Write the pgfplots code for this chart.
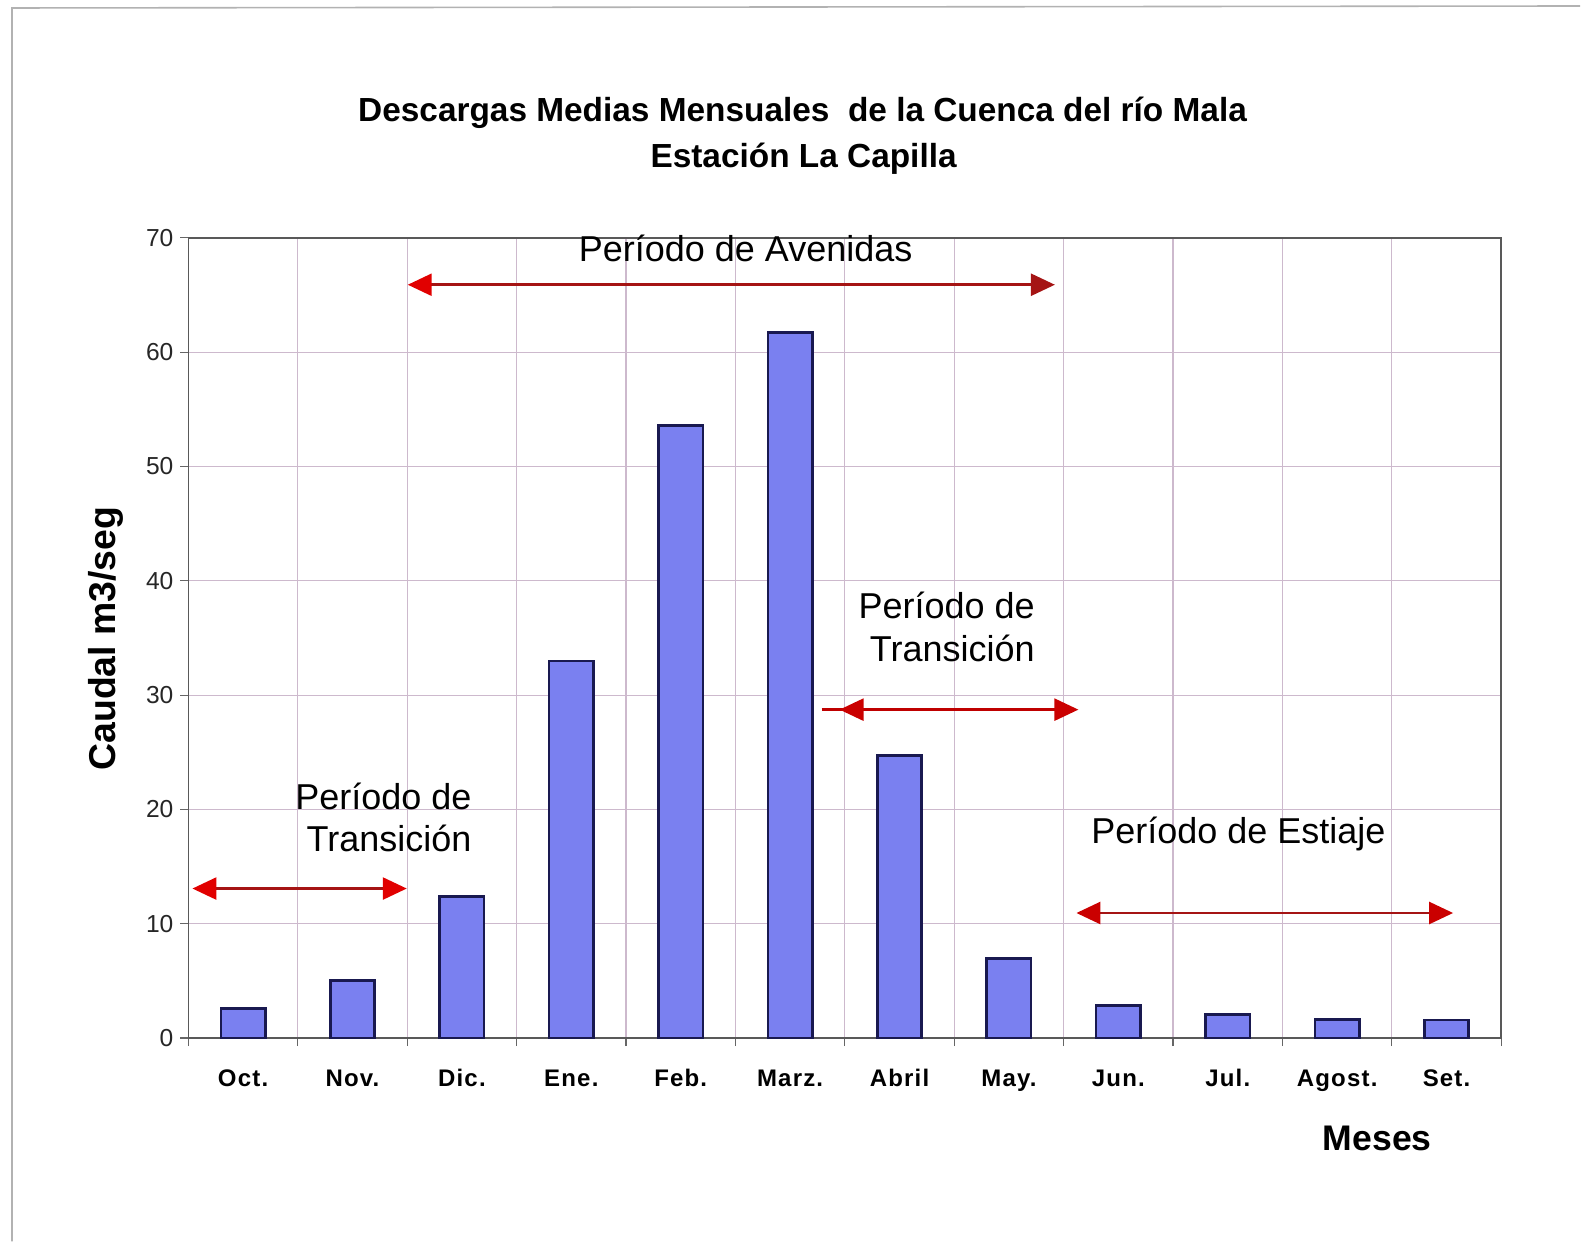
\documentclass[border=0pt]{standalone}
\usepackage{fontspec}
\setmainfont{Liberation Sans}
\newfontfamily\tickfont[LetterSpace=5]{Liberation Sans}
\usepackage{pgfplots}
\pgfplotsset{compat=1.18}
\usetikzlibrary{arrows.meta}
\definecolor{barfill}{RGB}{122,128,240}
\definecolor{baredge}{RGB}{25,25,80}
\definecolor{gridc}{RGB}{205,185,205}
\definecolor{arrred}{RGB}{225,0,0}
\definecolor{arrdark}{RGB}{165,20,20}
\begin{document}
\begin{tikzpicture}
\begin{axis}[
  scale only axis, width=656.75bp, height=400.3bp,
  clip=false,
  xmin=-0.5, xmax=11.5, ymin=0, ymax=70,
  ybar, bar width=22.2bp,
  xtick={-0.5,0.5,...,11.5},
  x tick label as interval,
  xticklabels={Oct.,Nov.,Dic.,Ene.,Feb.,Marz.,Abril,May.,Jun.,Jul.,Agost.,Set.},
  ytick={0,10,...,70},
  tick pos=left,
  xmajorgrids, ymajorgrids,
  major grid style={gridc, line width=0.6bp},
  axis line style={draw=black!65, line width=0.8bp},
  tick align=outside, major tick length=4bp,
  tick style={black!60, line width=0.6bp},
  /pgf/number format/assume math mode=true,
  yticklabel style={font=\fontsize{12.3bp}{12bp}\selectfont, text=black!85},
  xticklabel style={font=\tickfont\bfseries\fontsize{12bp}{12bp}\selectfont, anchor=base, yshift=-20bp},
]
\path (axis description cs:-0.14351,-0.25406) rectangle (axis description cs:1.06015,1.29728);
\draw[black!30, line width=0.8bp] (axis description cs:-0.13437,-0.25406) -- (axis description cs:-0.13437,1.28729) -- (axis description cs:1.06015,1.28978);
\addplot[fill=barfill, draw=baredge, line width=1.3bp] coordinates {
  (0,2.6) (1,5.06) (2,12.37) (3,32.97) (4,53.6) (5,61.7)
  (6,24.7) (7,6.97) (8,2.86) (9,2.08) (10,1.65) (11,1.59)};
% Avenidas arrow
\draw[arrdark, line width=1.3bp, {Triangle[length=12bp,width=11bp,color=arrred]}-{Triangle[length=12bp,width=11bp,color=arrdark]}]
  (axis cs:1.505,65.9) -- (axis cs:7.42,65.9);
% right transition arrow
\draw[arrred!85!black, line width=1.3bp] (axis cs:5.287,28.73) -- (axis cs:5.5,28.73);
\draw[arrred!85!black, line width=1.3bp, {Triangle[length=12bp,width=11bp,color=arrred!90!black]}-{Triangle[length=12bp,width=11bp,color=arrred!90!black]}]
  (axis cs:5.452,28.73) -- (axis cs:7.635,28.73);
% left transition arrow
\draw[arrdark, line width=1.3bp, {Triangle[length=12bp,width=11bp,color=arrred]}-{Triangle[length=12bp,width=11bp,color=arrred]}]
  (axis cs:-0.463,13.08) -- (axis cs:1.496,13.08);
% estiaje arrow
\draw[arrdark, line width=1.3bp, {Triangle[length=12bp,width=11bp,color=arrred!90!black]}-{Triangle[length=12bp,width=11bp,color=arrred!90!black]}]
  (axis cs:7.617,10.94) -- (axis cs:11.06,10.94);
% titles
\node[anchor=base, inner sep=0, font=\bfseries\fontsize{16.7bp}{20bp}\selectfont] at (axis description cs:0.46783,1.14489) {Descargas Medias Mensuales\ \ de la Cuenca del río Mala};
\node[anchor=base, inner sep=0, font=\bfseries\fontsize{16.7bp}{20bp}\selectfont] at (axis description cs:0.46859,1.08743) {Estación La Capilla};
\node[rotate=90, inner sep=0, font=\bfseries\fontsize{18.7bp}{20bp}\selectfont] at (axis description cs:-0.06281,0.49913) {Caudal m3/seg};
\node[anchor=base, inner sep=0, font=\bfseries\fontsize{17.8bp}{20bp}\selectfont] at (axis description cs:0.90560,-0.14102) {Meses};
% annotations
\node[anchor=base, inner sep=0, font=\fontsize{18bp}{20bp}\selectfont] at (axis description cs:0.42444,0.97002) {Período de Avenidas};
\node[anchor=base east, inner sep=0, font=\fontsize{18bp}{20bp}\selectfont] at (axis description cs:0.64484,0.52411) {Período de};
\node[anchor=base east, inner sep=0, font=\fontsize{18bp}{20bp}\selectfont] at (axis description cs:0.64484,0.47040) {Transición};
\node[anchor=base east, inner sep=0, font=\fontsize{18bp}{20bp}\selectfont] at (axis description cs:0.21584,0.28554) {Período de};
\node[anchor=base east, inner sep=0, font=\fontsize{18bp}{20bp}\selectfont] at (axis description cs:0.21584,0.23308) {Transición};
\node[anchor=base, inner sep=0, font=\fontsize{18bp}{20bp}\selectfont] at (axis description cs:0.79977,0.24307) {Período de Estiaje};
\end{axis}
\end{tikzpicture}
\end{document}
